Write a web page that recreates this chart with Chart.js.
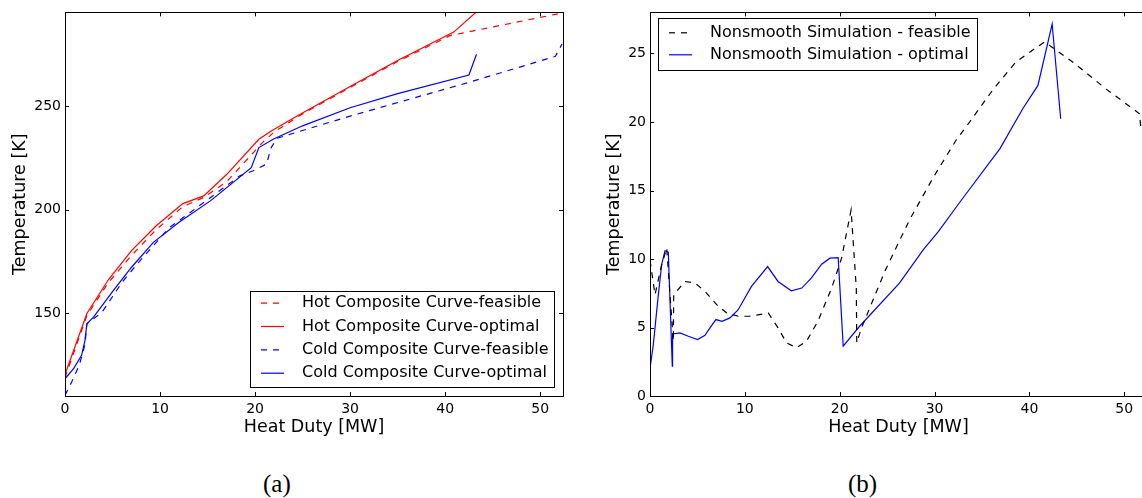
<!DOCTYPE html>
<html lang="en">
<head>
  <meta charset="UTF-8" />
  <title>Composite Curves</title>
  <script src="https://cdn.jsdelivr.net/npm/chart.js"></script>
  <style>
    html, body { margin: 0; padding: 0; background: #fff; }
    body { width: 1142px; height: 498px; overflow: hidden; position: relative; }
    canvas { position: absolute; top: 0; }
    #left { left: 0; }
    #right { left: 590px; }
    .cap { position: absolute; top: 470px; font-family: "Liberation Serif", serif; font-size: 25px; color: #000; }
  </style>
</head>
<body>
  <canvas id="left" width="600" height="450"></canvas>
  <canvas id="right" width="600" height="450"></canvas>
  <div class="cap" style="left:263px">(a)</div>
  <div class="cap" style="left:848px">(b)</div>

  <script>
    // (a) composite curves
    const hotFeasX = [0, 2.3, 4.5, 7.0, 9.5, 12.4, 14.6, 17, 20.9, 22, 24.7, 30, 35, 40.5, 52.4];
    const hotFeasY = [119, 149, 164.5, 178, 190, 201.5, 206, 213.5, 233, 237.5, 245.5, 259, 271.5, 284, 295];
    const hotOptX = [0, 2.3, 4.6, 7.0, 9.6, 12.4, 14.6, 17, 20.4, 21.7, 24.7, 30, 35, 40.9, 43.3];
    const hotOptY = [120.5, 150, 166.5, 180.3, 192.3, 203, 206.7, 217, 234, 238, 246, 259.5, 272, 285.7, 295.5];
    const coldFeasX = [0, 0.7, 1.5, 2.1, 2.3, 3.9, 6, 7.9, 11, 14.6, 18.4, 19.8, 21.2, 21.7, 22.3, 30, 42.3, 51.6, 52.3];
    const coldFeasY = [110.5, 117, 125, 135, 145, 150.6, 165, 175.5, 191.5, 203.5, 216.4, 218.8, 222, 230, 234.5, 245.2, 261.2, 274, 280];
    const coldOptX = [0, 0.9, 1.75, 2.1, 2.3, 3.0, 5, 7.0, 9.3, 12, 15.3, 19.6, 20.4, 21.9, 25, 30, 35, 42.5, 43.3];
    const coldOptY = [118.5, 123.4, 129.8, 137, 145, 148.2, 160.5, 172.3, 184.3, 194, 204.3, 220.3, 230, 234, 240.5, 249.2, 256, 265, 275];

    // (b) nonsmooth simulation
    const simFeasX = [0, 0.53, 1.2, 1.76, 2.46, 2.5, 3.69, 4.74, 5.8, 7.03, 8.08, 9.3, 10.5, 12.47, 13.5, 14.4, 15.46, 16.5, 17.7, 19.15, 20.2, 21.2, 21.75, 21.8, 22.3, 24.76, 26.0, 27.4, 29.9, 32.3, 33.7, 36.2, 38.6, 41.6, 44.6, 48.1, 50.9, 51.6, 51.8];
    const simFeasY = [9.9, 7.4, 9.5, 10.8, 4.0, 7.4, 8.36, 8.24, 7.64, 6.67, 6.06, 5.82, 5.82, 6.06, 4.97, 3.88, 3.52, 4.0, 5.45, 7.88, 10.06, 13.58, 7.88, 3.88, 4.97, 9.1, 10.9, 12.9, 16.0, 18.7, 20.0, 22.4, 24.4, 25.85, 24.36, 22.4, 20.97, 20.6, 19.27];
    const simOptX = [0, 0.35, 0.88, 1.23, 1.58, 1.93, 2.35, 2.38, 3.16, 4.04, 5.02, 5.8, 6.32, 6.95, 7.6, 8.43, 9.3, 10.0, 10.7, 12.4, 13.5, 14.9, 16.0, 17.0, 18.1, 18.97, 19.84, 20.37, 22.1, 26.3, 28.8, 30.4, 32.7, 36.9, 39.3, 40.9, 42.4, 43.3];
    const simOptY = [2.0, 3.76, 7.4, 9.6, 10.6, 10.5, 2.18, 4.53, 4.6, 4.36, 4.12, 4.43, 4.97, 5.58, 5.45, 5.7, 6.3, 7.15, 8.0, 9.45, 8.36, 7.68, 7.88, 8.6, 9.62, 10.06, 10.1, 3.64, 5.09, 8.24, 10.67, 12.0, 14.18, 18.06, 20.97, 22.67, 27.15, 20.24];

    const xTicks = [0, 10, 20, 30, 40, 50];
    const leftYTicks = [150, 200, 250];
    const rightYTicks = [0, 5, 10, 15, 20, 25];

    const leftLabels = ['Hot Composite Curve-feasible', 'Hot Composite Curve-optimal',
                        'Cold Composite Curve-feasible', 'Cold Composite Curve-optimal'];
    const rightLabels = ['Nonsmooth Simulation - feasible', 'Nonsmooth Simulation - optimal'];

    const FONT = '"DejaVu Sans", sans-serif';
    const pts = (xs, ys) => xs.map((x, i) => ({ x, y: ys[i] }));

    function line(label, xs, ys, color, dashed) {
      return {
        label, data: pts(xs, ys), showLine: true, borderColor: color,
        borderWidth: 1.2, borderDash: dashed ? [6, 6] : [], pointRadius: 0,
        tension: 0, fill: false
      };
    }

    // box, inward ticks on all four sides
    const frame = {
      id: 'frame',
      afterDatasetsDraw(chart) {
        const { ctx, chartArea: a, scales: { x, y } } = chart;
        ctx.save();
        ctx.strokeStyle = '#000';
        ctx.lineWidth = 1;
        ctx.beginPath();
        x.ticks.forEach(t => {
          const px = Math.round(x.getPixelForValue(t.value)) + 0.5;
          ctx.moveTo(px, a.bottom); ctx.lineTo(px, a.bottom - 4);
          ctx.moveTo(px, a.top); ctx.lineTo(px, a.top + 4);
        });
        y.ticks.forEach(t => {
          const py = Math.round(y.getPixelForValue(t.value)) + 0.5;
          ctx.moveTo(a.left, py); ctx.lineTo(a.left + 4, py);
          ctx.moveTo(a.right, py); ctx.lineTo(a.right - 4, py);
        });
        ctx.stroke();
        ctx.strokeRect(Math.round(a.left) + 0.5, Math.round(a.top) + 0.5,
                       Math.round(a.right - a.left), Math.round(a.bottom - a.top));
        ctx.restore();
      }
    };

    // matplotlib style legend box inside the axes
    const boxLegend = {
      id: 'boxLegend',
      afterDraw(chart, args, o) {
        const ctx = chart.ctx;
        ctx.save();
        ctx.fillStyle = '#fff';
        ctx.fillRect(o.x, o.y, o.w, o.h);
        ctx.strokeStyle = '#000';
        ctx.lineWidth = 1;
        ctx.strokeRect(o.x + 0.5, o.y + 0.5, o.w, o.h);
        ctx.font = '16px ' + FONT;
        ctx.textBaseline = 'middle';
        chart.data.datasets.forEach((ds, i) => {
          const ry = o.rows[i] + 0.5;
          ctx.strokeStyle = ds.borderColor;
          ctx.lineWidth = 1.2;
          ctx.setLineDash(ds.borderDash);
          ctx.beginPath();
          ctx.moveTo(o.x + o.line0, ry);
          ctx.lineTo(o.x + o.line1, ry);
          ctx.stroke();
          ctx.setLineDash([]);
          ctx.fillStyle = '#000';
          ctx.fillText(ds.label, o.x + o.text, ry);
        });
        ctx.restore();
      }
    };

    function axes(yTicks, ymin, ymax, yWidth, yTitlePad) {
      return {
        x: {
          type: 'linear', min: 0, max: 52.4,
          afterBuildTicks: s => { s.ticks = xTicks.map(v => ({ value: v })); },
          afterFit: s => { s.height = 54; },
          grid: { display: false, drawTicks: false },
          border: { display: false },
          ticks: { color: '#000', padding: 5, font: { family: FONT, size: 14 }, maxRotation: 0 },
          title: { display: true, text: 'Heat Duty [MW]', color: '#000',
                   font: { family: FONT, size: 17.5, lineHeight: 1.2 }, padding: { bottom: 12 } }
        },
        y: {
          type: 'linear', min: ymin, max: ymax,
          afterBuildTicks: s => { s.ticks = yTicks.map(v => ({ value: v })); },
          afterFit: s => { s.width = yWidth; },
          grid: { display: false, drawTicks: false },
          border: { display: false },
          ticks: { color: '#000', padding: 4, font: { family: FONT, size: 14 } },
          title: { display: true, text: 'Temperature [K]', color: '#000',
                   font: { family: FONT, size: 17.5, lineHeight: 1.2 }, padding: { top: yTitlePad } }
        }
      };
    }

    new Chart(document.getElementById('left'), {
      type: 'scatter',
      data: {
        datasets: [
          line(leftLabels[0], hotFeasX, hotFeasY, '#ff0000', true),
          line(leftLabels[1], hotOptX, hotOptY, '#ff0000', false),
          line(leftLabels[2], coldFeasX, coldFeasY, '#0000ff', true),
          line(leftLabels[3], coldOptX, coldOptY, '#0000ff', false)
        ]
      },
      options: {
        responsive: false, animation: false,
        layout: { padding: { top: 11, right: 37, left: 0, bottom: 0 } },
        plugins: {
          legend: { display: false }, tooltip: { enabled: false },
          boxLegend: { x: 250, y: 291, w: 304, h: 96, rows: [302.7, 326, 349.3, 372.7], line0: 11, line1: 34, text: 52 }
        },
        scales: axes(leftYTicks, 110.2, 295.2, 65, 10)
      },
      plugins: [frame, boxLegend]
    });

    new Chart(document.getElementById('right'), {
      type: 'scatter',
      data: {
        datasets: [
          line(rightLabels[0], simFeasX, simFeasY, '#000000', true),
          line(rightLabels[1], simOptX, simOptY, '#0000ff', false)
        ]
      },
      options: {
        responsive: false, animation: false,
        layout: { padding: { top: 11, right: 43, left: 0, bottom: 0 } },
        plugins: {
          legend: { display: false }, tooltip: { enabled: false },
          boxLegend: { x: 68, y: 18, w: 319, h: 52, rows: [32.3, 54.3], line0: 11, line1: 34, text: 52 }
        },
        scales: axes(rightYTicks, 0, 28, 60, 13.5)
      },
      plugins: [frame, boxLegend]
    });
  </script>
</body>
</html>
